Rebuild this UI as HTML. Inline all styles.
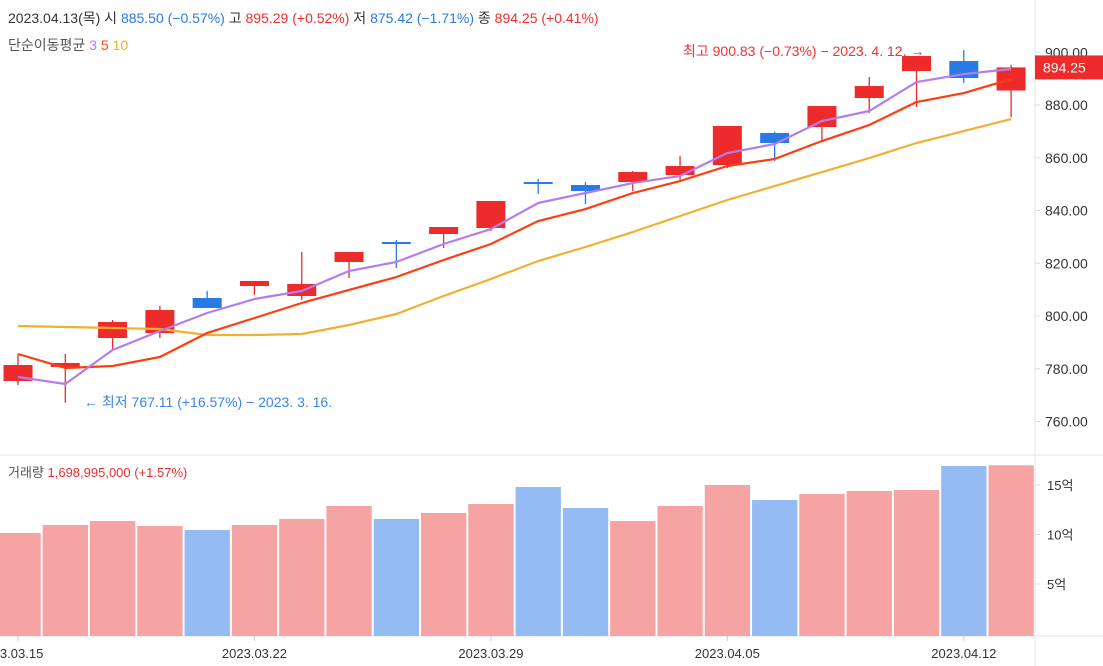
<!DOCTYPE html>
<html><head><meta charset="utf-8">
<style>
body{margin:0;background:#fff;width:1103px;height:666px;overflow:hidden;font-family:"Liberation Sans","Noto Sans CJK KR",sans-serif}
svg{display:block}
text{font-family:"Liberation Sans","Noto Sans CJK KR",sans-serif}
</style></head><body>
<svg id="chart" width="1103" height="666" viewBox="0 0 1103 666">
<g id="grid"></g>
<g id="vol"></g>
<g id="price"></g>
<g id="axes"></g>
<text x="8" y="23" font-size="14" fill="#333">2023.04.13(목)  시 <tspan fill="#2a7ae2">885.50 (−0.57%)</tspan> 고 <tspan fill="#ee2e2e">895.29 (+0.52%)</tspan> 저 <tspan fill="#2a7ae2">875.42 (−1.71%)</tspan> 종 <tspan fill="#ee2e2e">894.25 (+0.41%)</tspan></text>
<text x="8" y="50" font-size="14" fill="#555">단순이동평균 <tspan fill="#b57cf0">3</tspan> <tspan fill="#ff4a1a">5</tspan> <tspan fill="#f0b030">10</tspan></text>
<text x="8" y="477" font-size="13" fill="#555">거래량  <tspan fill="#ee2e2e">1,698,995,000 (+1.57%)</tspan></text>
<text x="683" y="56" font-size="14" fill="#ee3333">최고 900.83 (−0.73%) − 2023. 4. 12. →</text>
<text x="84" y="407" font-size="14" fill="#3a86e8">← 최저 767.11 (+16.57%) − 2023. 3. 16.</text>
</svg>
<script>
const dates=["03.15","03.16","03.17","03.20","03.21","03.22","03.23","03.24","03.27","03.28","03.29","03.30","03.31","04.03","04.04","04.05","04.06","04.07","04.10","04.11","04.12","04.13"];
const openV=[775.36,780.67,791.66,793.56,806.82,811.37,807.58,820.47,828.05,831.09,833.36,850.80,849.66,850.80,853.45,857.24,869.38,871.65,882.64,892.88,896.67,885.50];
const highV=[785.59,785.59,798.48,803.79,809.48,813.27,824.26,824.26,828.81,833.74,843.60,851.94,850.80,854.97,860.66,872.03,869.75,879.61,890.60,898.57,900.83,895.29];
const lowV=[773.84,767.11,787.11,791.66,803.03,807.96,806.07,814.41,818.20,825.78,832.22,846.25,842.46,847.39,851.56,856.11,858.76,866.34,876.96,879.23,888.33,875.42];
const closeV=[781.42,782.18,797.73,802.27,803.03,813.27,812.13,824.26,827.30,833.74,843.60,850.42,847.39,854.59,856.87,872.03,865.59,879.61,887.19,898.57,890.22,894.25];
const ma3=[776.87,774.22,787.11,794.31,801.14,806.44,809.48,817.06,820.47,827.30,832.98,842.84,846.63,850.42,853.07,861.79,865.21,873.92,877.72,888.71,891.74,893.64];
const ma5=[785.59,780.29,781.04,784.46,793.56,799.24,804.93,809.86,814.78,821.23,827.30,836.01,840.56,846.63,851.18,856.87,859.52,866.34,872.41,881.13,884.54,889.85];
const ma10=[796.21,795.83,795.45,795.07,792.80,792.80,793.18,796.59,800.76,807.58,814.03,820.85,826.16,831.84,837.91,843.98,849.28,854.59,859.90,865.59,870.13,874.68];
const volume=[10.15,10.96,11.36,10.86,10.45,10.96,11.57,12.88,11.57,12.17,13.08,14.80,12.68,11.36,12.88,15.00,13.48,14.09,14.39,14.49,16.92,16.99];
const priceTicks=[760,780,800,820,840,860,880,900];
const volTicks=[5,10,15];
const dateLabels=["23.03.15","2023.03.22","2023.03.29","2023.04.05","2023.04.12"];
const dateLabelIdx=[0,5,10,15,20];

const NS="http://www.w3.org/2000/svg";
const X=i=>18+i*47.29;
const Y=v=>316-(v-800)*2.6375;
const VY=v=>633.5-v*9.9;
function mk(parent,tag,attrs){const e=document.createElementNS(NS,tag);for(const k in attrs)e.setAttribute(k,attrs[k]);document.getElementById(parent).appendChild(e);return e;}
// frame
let e=mk('grid','line',{x1:1035,y1:0,x2:1035,y2:666,stroke:'#e6e6e6'});


e=mk('grid','line',{x1:0,y1:455,x2:1103,y2:455,stroke:'#e6e6e6'});


e=mk('grid','line',{x1:0,y1:636,x2:1103,y2:636,stroke:'#e6e6e6'});


// volume
volume.forEach((v,i)=>{
  const up=closeV[i]>=openV[i];
  const r=mk('vol','rect',{x:X(i)-22.6,y:VY(v),width:45.3,height:636-VY(v),fill:up?'#f6a3a3':'#94bbf4'});
  
  
});
// candles
dates.forEach((d,i)=>{
  const up=closeV[i]>=openV[i];const c=up?'#ee2b2b':'#2a7ae6';
  const w=mk('price','line',{x1:X(i),x2:X(i),y1:Y(highV[i]),y2:Y(lowV[i]),stroke:c,'stroke-width':1.3});
  
  
  const t=Math.min(Y(openV[i]),Y(closeV[i]));const h=Math.max(2,Math.abs(Y(openV[i])-Y(closeV[i])));
  const b=mk('price','rect',{x:X(i)-14.5,y:t,width:29,height:h,fill:c});
  
  
});
// MA lines
[[ma10,'#f0b030','ma10-line'],[ma5,'#ff3d12','ma5-line'],[ma3,'#b57cf0','ma3-line']].forEach(([arr,col,n])=>{
  const p=mk('price','polyline',{points:arr.map((v,i)=>X(i)+','+Y(v)).join(' '),fill:'none',stroke:col,'stroke-width':2.2,'stroke-linejoin':'round'});
  
  
});
// price axis
priceTicks.forEach(v=>{
  const l=mk('axes','line',{x1:1035,x2:1040,y1:Y(v),y2:Y(v),stroke:'#ddd'});
  
  
  const t=mk('axes','text',{x:1045,y:Y(v)+5,'font-size':14,fill:'#333'});
  t.textContent=v.toFixed(2);
  
  
});
const lastC=closeV[closeV.length-1];
e=mk('axes','rect',{x:1035,y:Y(lastC)-12,width:68,height:24,fill:'#ee2b2b'});


e=mk('axes','text',{x:1043,y:Y(lastC)+5,'font-size':14,fill:'#fff'});
e.textContent=lastC.toFixed(2);


volTicks.forEach(v=>{
  const l=mk('axes','line',{x1:1035,x2:1040,y1:VY(v),y2:VY(v),stroke:'#ddd'});
  
  
  const t=mk('axes','text',{x:1047,y:VY(v)+5,'font-size':13,fill:'#333'});
  t.textContent=v+'억';
  
  
});
dateLabels.forEach((s,k)=>{
  const x=X(dateLabelIdx[k]);
  const l=mk('axes','line',{x1:x,x2:x,y1:636,y2:641,stroke:'#ccc'});
  
  
  const t=mk('axes','text',{x:x,y:658,'font-size':13,fill:'#333','text-anchor':'middle'});
  t.textContent=s;
  
  
});
</script>
</body></html>
